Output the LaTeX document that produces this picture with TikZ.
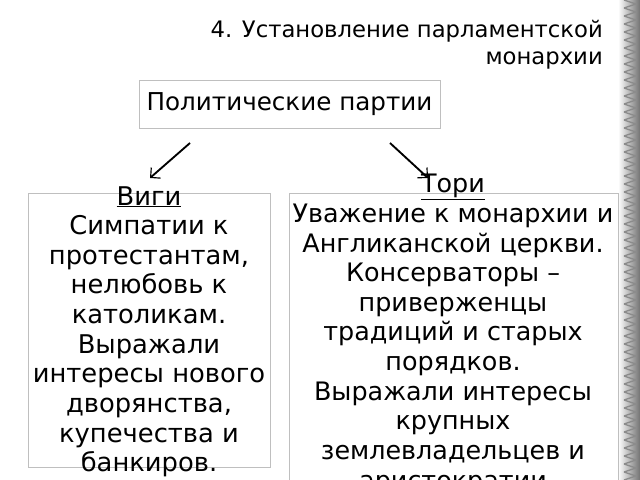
\documentclass[tikz,border=0pt]{standalone}
\usepackage{fontspec}
\setmainfont{DejaVu Sans}
\usetikzlibrary{positioning,arrows.meta}
\tikzset{
  panel/.style={draw=black!25,line width=0.8pt,fill=white,anchor=north west,inner sep=0pt},
  body/.style={anchor=north,align=center,inner sep=0pt},
  pointer/.style={line width=1.6pt,-{Straight Barb[length=6pt,width=12pt,line width=1pt]}}
}
\begin{document}
\begin{tikzpicture}[x=0.03cm,y=-0.03cm]
\useasboundingbox (0,0) rectangle (640,480);
\clip (0,0) rectangle (640,480);
\fill[white] (0,0) rectangle (640,480);
% texture strip at right
\shade[left color=white,right color=black!55] (618,0) rectangle (640,480);
\foreach \k in {0,8,...,480}
  \draw[black!45,line width=1.2pt] (624,\k) -- (636,\k+4) -- (624,\k+8);
% title
\node[anchor=north east,align=right,inner sep=0pt,font=\fontsize{19.4}{23}\selectfont] (title) at (603,20)
  {4. Установление парламентской\\монархии};
% parties
\node[draw=black!25,line width=0.8pt,minimum width=301*0.03cm,minimum height=48*0.03cm,
  font=\fontsize{21}{24}\selectfont] (parties) at (289.5,104) {Политические партии};
\coordinate (la) at (190,143);
\coordinate (lb) at (150,178);
\coordinate (ra) at (390,143);
\coordinate (rb) at (428,178);
\draw[pointer] (la) -- (lb);
\draw[pointer] (ra) -- (rb);
% boxes
\node[panel,minimum width=242*0.03cm,minimum height=274*0.03cm] (whigbox) at (28,193) {};
\node[panel,minimum width=329*0.03cm,minimum height=300*0.03cm] (torybox) at (289,193) {};
\node[body,font=\fontsize{22}{25.3}\selectfont] (whigs) at (149,186) {\underline{Виги}\\Симпатии к\\протестантам,\\нелюбовь к\\католикам.\\Выражали\\интересы нового\\дворянства,\\купечества и\\банкиров.};
\node[body,font=\fontsize{21.7}{25.3}\selectfont] (tories) at (453,174) {\underline{Тори}\\Уважение к монархии и\\Англиканской церкви.\\Консерваторы –\\приверженцы\\традиций и старых\\порядков.\\Выражали интересы\\крупных\\землевладельцев и\\аристократии};
\end{tikzpicture}
\end{document}
